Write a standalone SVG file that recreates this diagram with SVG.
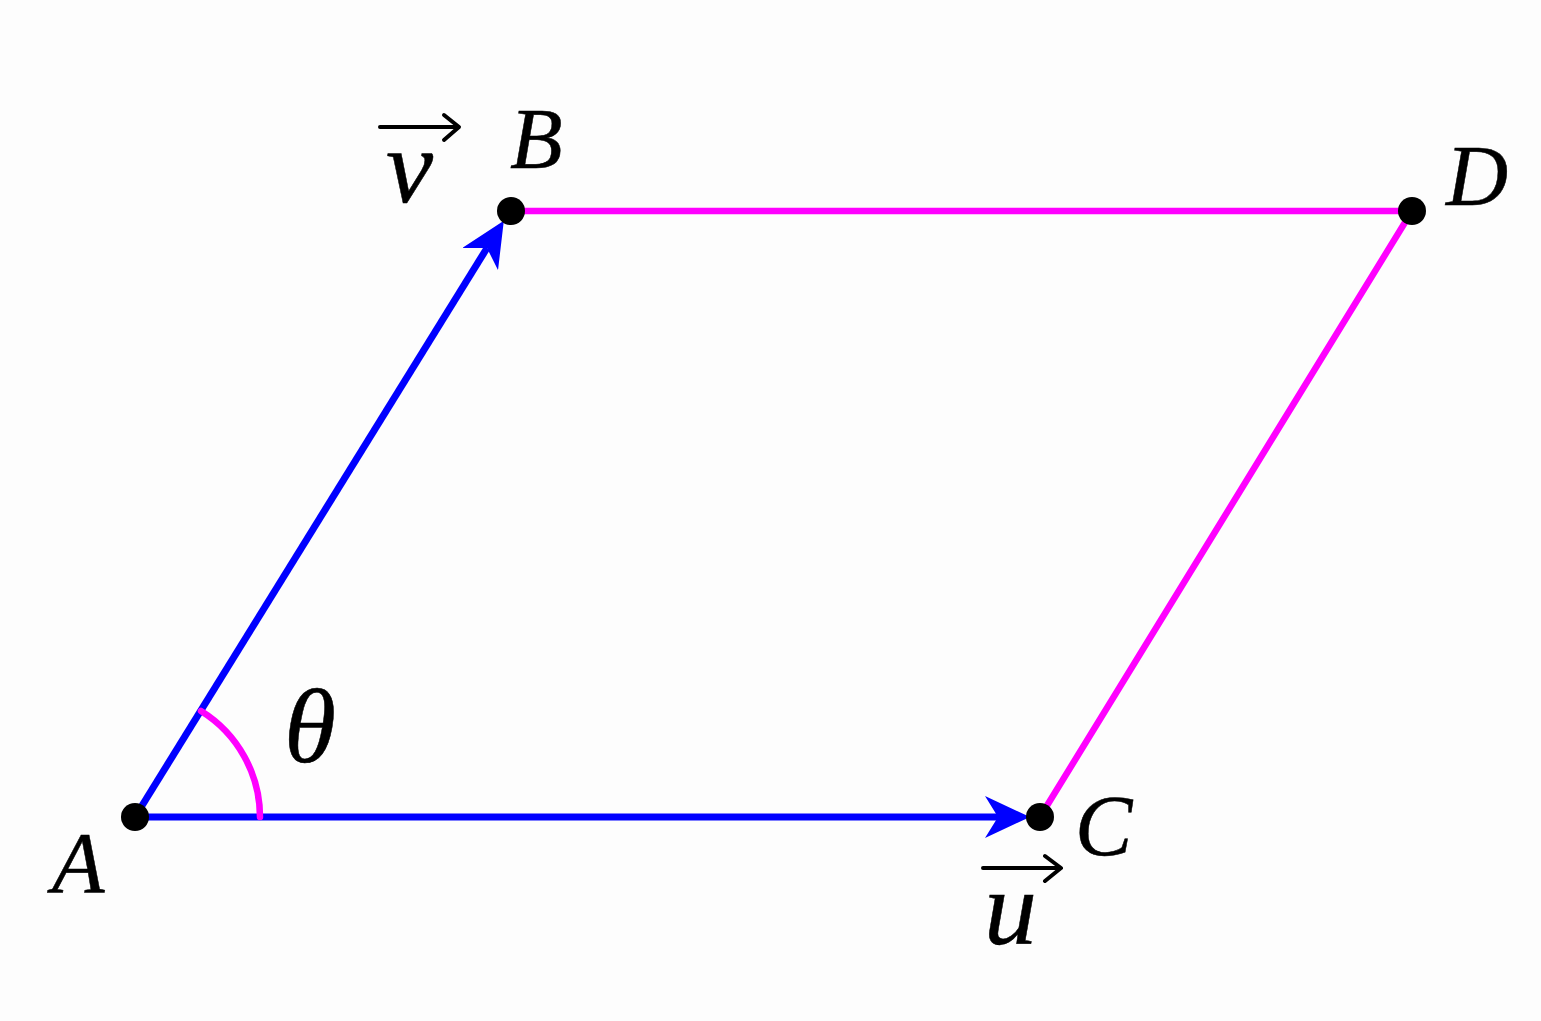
<svg xmlns="http://www.w3.org/2000/svg" width="1541" height="1021" viewBox="0 0 1541 1021">
<defs>
<style>
.lbl{font-family:"Liberation Serif","Times New Roman",serif;font-style:italic;fill:#000;stroke:#000;stroke-width:0.5}
.blue{stroke:#0000ff;stroke-width:7;fill:none}
.mag{stroke:#ff00ff;stroke-width:6.5;fill:none;stroke-linecap:round}
.dot{fill:#000}
.vec{stroke:#000;stroke-width:4;fill:none;stroke-linecap:round;stroke-linejoin:round}
</style>
<marker id="head" viewBox="0 0 45 42" refX="13" refY="21" markerWidth="45" markerHeight="42" markerUnits="userSpaceOnUse" orient="auto">
<path d="M0,0 L45,21 L0,42 L13,21 Z" fill="#0000ff"/>
</marker>
</defs>
<rect width="1541" height="1021" fill="#fdfdfd"/>
<g id="connectors">
<line class="mag" x1="511" y1="211" x2="1412" y2="211"/>
<line class="mag" x1="1412" y1="211" x2="1040" y2="817"/>
<line class="blue" x1="135" y1="817" x2="998" y2="817" marker-end="url(#head)"/>
<line class="blue" x1="135" y1="817" x2="487" y2="248" marker-end="url(#head)"/>
<path id="angle" class="mag" stroke-width="5.5" d="M260,817 A125,125 0 0,0 201,711"/>
</g>
<g id="nodeA"><circle class="dot" cx="135" cy="817" r="14"/><text class="lbl" x="52" y="892" font-size="86">A</text></g>
<g id="nodeB"><circle class="dot" cx="511" cy="211" r="14"/><text class="lbl" x="510" y="168" font-size="86">B</text></g>
<g id="nodeC"><circle class="dot" cx="1040" cy="817" r="14"/><text class="lbl" x="1075" y="855" font-size="86">C</text></g>
<g id="nodeD"><circle class="dot" cx="1412" cy="211" r="14"/><text class="lbl" x="1446" y="205" font-size="86">D</text></g>
<g id="theta"><text class="lbl" x="284" y="762" font-size="106">θ</text></g>
<g id="vecV">
<path class="vec" d="M380,127 L458,127 M444,115 L459,127 L444,140"/>
<text class="lbl" x="386" y="202" font-size="106">v</text>
</g>
<g id="vecU">
<path class="vec" d="M983,868 L1060,868 M1045,856 L1061,868 L1045,881"/>
<text class="lbl" x="984" y="944" font-size="106">u</text>
</g>
</svg>
